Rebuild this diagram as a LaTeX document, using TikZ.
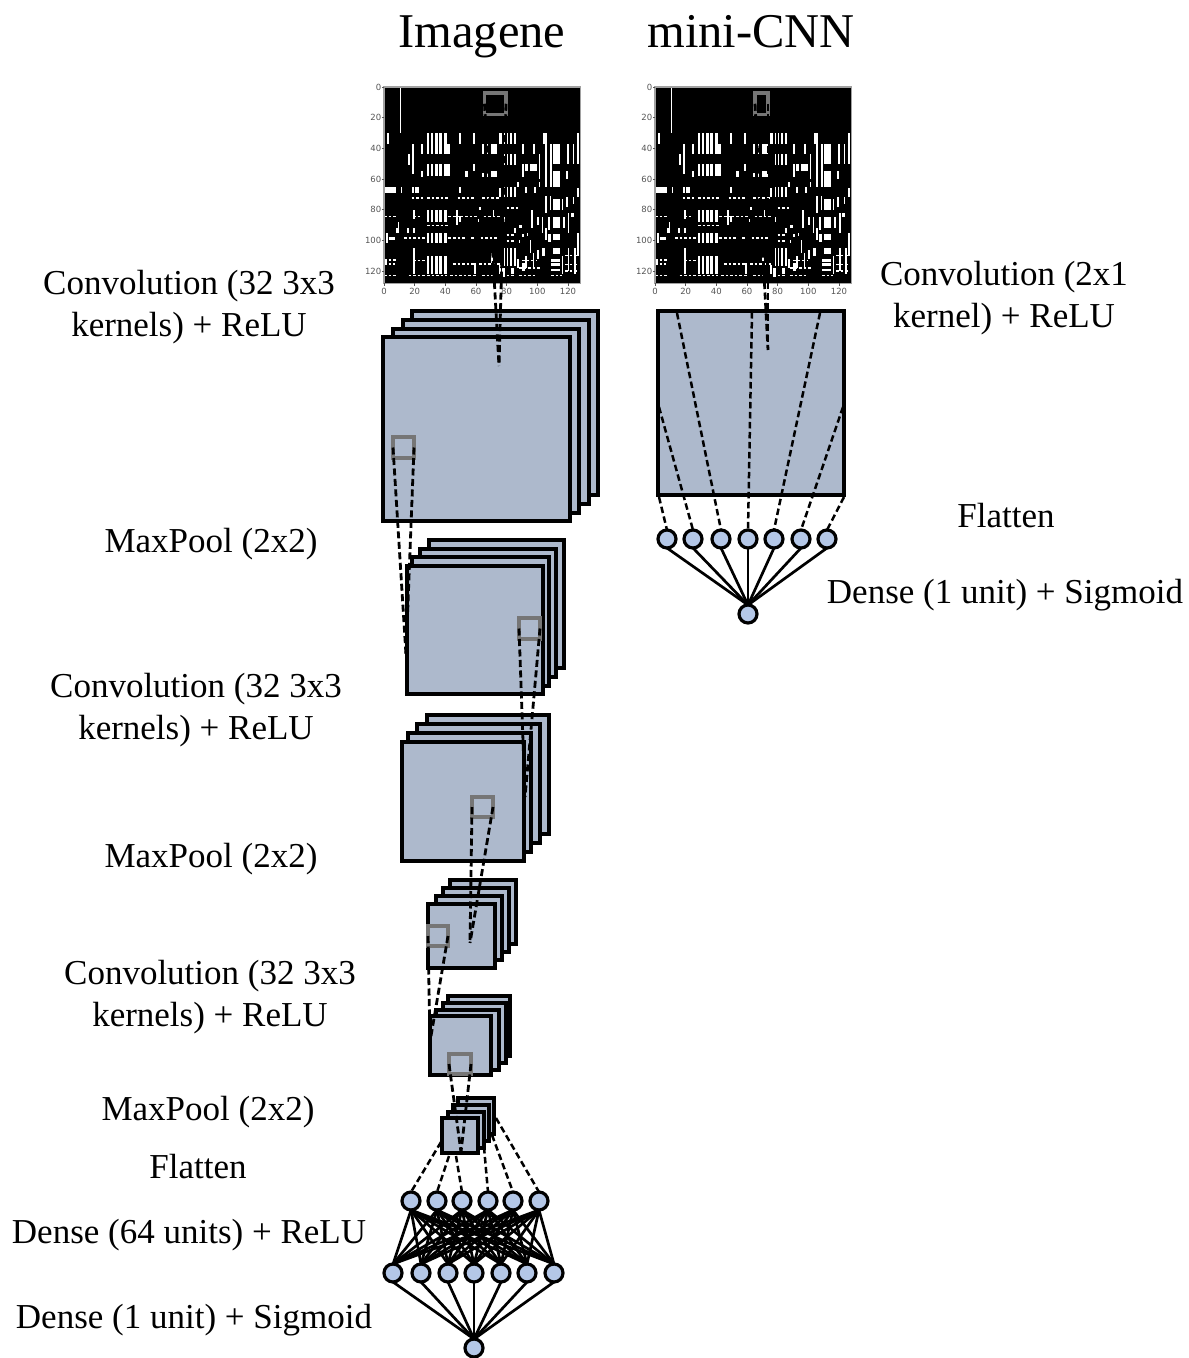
\documentclass[tikz,border=0pt]{standalone}
\usepackage{fontspec}
\setmainfont{Liberation Serif}
\newfontfamily\tickfont{DejaVu Sans}
\definecolor{boxfill}{HTML}{ADB9CC}
\definecolor{cellfill}{HTML}{B4C7E7}
\definecolor{sqgrey}{HTML}{767676}
\definecolor{tickgrey}{HTML}{555555}
\newcommand{\stk}[5]{\node[layerbox,minimum width={(#4-#2)*1pt},minimum height={(#5-#3)*1pt}] (#1) at (#2,#3) {};}
\newcommand{\grs}[5]{\node[sqbox,minimum width={(#4-#2)*1pt},minimum height={(#5-#3)*1pt}] (#1) at (#2,#3) {};}
% white rectangles of the input matrix, in matrix units
\newcommand{\rects}{2/30/3.5/37, 49/30/50.5/37, 58/30/59.5/37, 75/30/77/37, 104/30/105/37, 126/30/127.5/37,
 10.2/0/11.3/30, 18.5/37/19.7/57, 24/37/25.2/44, 15.5/44/16.7/51, 24/55/25.2/59,
 64/37/65/44, 67/37/68/44, 70/37/74/44, 64/56/65/59, 67/56/68/59, 70/55/74/59,
 90/37/91/44, 97.5/37/98.7/44, 101/44/102/60, 105/30/106.2/65, 90/50/91/59, 92/50/94/55, 95/50/100/55, 58/50/59.5/55, 53/55/54.5/59,
 108.5/37/109.5/65, 110/37/114.5/50, 110/55/114.5/65, 119.5/37/120.7/50, 123/37/124.2/50, 119/55/120/60, 126/37/127/50,
 0.5/65/7.5/69, 11/65/12/69, 18.5/65/19.5/69, 20/65/23/69, 49/65/50/69, 75/66/76/72, 87/62/88/65, 92/65/93/69, 98/65/99/69, 101/62/102/65,
 105/71/106/82, 108/71/109/80, 110/73/114.5/80, 116/73/117/80, 119/72/120/78, 123/72/124/76, 126/66/127/72,
 110/85/114.5/92, 107/85/108/93, 96/80/97/92, 100/85/101/90, 103/85/104/95, 120/82/121/95, 122/82/124/85, 117/85/118/92,
 110/96/114.5/100, 107/96/109/101, 105/92/106/100, 126/95/127/110,
 110/105/114.5/109, 103/105/105/110, 100/106/101/112, 97/108/98/118, 92/110/93/118, 120/105/121/120, 124/105/125/122, 116/110/117/122,
 109/112/115/114, 109/115/115/117, 109/119/115/120, 19/105/20/122, 0.5/112/2/115,
 59/115/60/122, 70/108/71/115, 75/116/76/122, 1/95/2.5/102, 3.5/98/7/100, 8/92/10/95, 9/88/10/92, 15/92/16/95, 19/92/20/95,
 19/80/20/86, 47/80/48/90, 49/84/50/88, 61/86/62/88, 62/78/63/80, 71/80/72/84, 78/85/79/88, 88/90/90/92,
 85/92/86/95, 90/96/91/98, 93/95/94/97, 95/100/96/108, 88/100/89/102, 87/112/88/118, 90/115/92/120, 83/118/85/122, 77/118/79/124}
\newcommand{\heat}[2]{%
 \begin{scope}[shift={(#1,#2)},x=1.533pt,y=-1.533pt]
  \fill[black] (0,0) rectangle (128,128);
  \foreach \a/\b/\c/\d in \rects {\fill[white] (\a,\b) rectangle (\c,\d);}
  \foreach \xa/\xb in {28.3/29.3,30.4/32.2,33.3/35,36/37.8,39/41.3}{
    \fill[white] (\xa,30) rectangle (\xb,44);
    \fill[white] (\xa,50) rectangle (\xb,58);
    \fill[white] (\xa,80) rectangle (\xb,88);
    \fill[white] (\xa,95) rectangle (\xb,102);
    \fill[white] (\xa,110) rectangle (\xb,122);}
  \foreach \xa/\xb in {78/79,80/81,82/83.5,84.5/86}{
    \fill[white] (\xa,30) rectangle (\xb,37);
    \fill[white] (\xa,44) rectangle (\xb,51);
    \fill[white] (\xa,65) rectangle (\xb,72);
    \fill[white] (\xa,105) rectangle (\xb,117);}
  \fill[white] (41.3,37) rectangle (43,44); \fill[white] (41.3,50) rectangle (43,58);
  \foreach \yy/\xa/\xb/\lw in {72.5/18/26/1.3, 72.5/28/43/1.3, 72.5/48/60/1.3, 72.5/64/75/1.3, 79/80/88/1.3, 84.5/0/8/1.8, 84.5/19/25/1.8, 84.5/42/49/1.8, 84.5/50/62/1.3, 84.5/65/76/1.8, 90.5/28/43/1.3, 98.5/13/27/1.3, 98.5/42/53/1.8, 98.5/57/60/1.3, 98.5/63/75/1.3, 96.5/80/86/1.3, 100.5/80/86/1.3, 113/0/8/1.8, 115.5/0/7/1.8, 113/19/27/1.3, 115.5/45/60/1.3, 115.5/62/76/1.3, 113/90/100/1.3, 118/88/102/1.3, 123/0/8/1.3, 123/16/41/1.3, 123/43/60/1.3, 123/64/73/1.8, 123/80/86/1.3, 123/88/100/1.3, 123/109/116/1.3, 120/118/127/1.3, 116/118/127/1.3, 110/118/126/1.3}{
    \draw[white,line width=\lw pt,dash pattern=on 2.6pt off 2pt] (\xa,\yy) -- (\xb,\yy);}
  \draw[tickgrey!55,line width=1.2pt] (0,0) rectangle (128,128);
  \foreach \v in {0,20,...,120}{
    \draw[tickgrey,line width=.6pt] (\v,128) -- ++(0,1.5);
    \draw[tickgrey,line width=.6pt] (0,\v) -- ++(-1.5,0);
    \node[ticklbl,anchor=north] at (\v,130.5) {\v};
    \node[ticklbl,anchor=east] at (-1,\v) {\v};}
 \end{scope}}
\tikzset{
  x=1pt,y=-1pt,
  layerbox/.style={draw=black,fill=boxfill,line width=3.8pt,anchor=north west,inner sep=0pt,outer sep=0pt},
  sqbox/.style={draw=sqgrey,line width=3.4pt,anchor=north west,inner sep=0pt,outer sep=0pt},
  dashlink/.style={draw=black,line width=2.8pt,dash pattern=on 7pt off 3.5pt},
  flatlink/.style={draw=black,line width=2.5pt,dash pattern=on 6.5pt off 3.5pt},
  cell/.style={circle,draw=black,fill=cellfill,line width=3.2pt,minimum size=18pt,inner sep=0pt,outer sep=0pt},
  wire/.style={draw=black,line width=2.7pt},
  lbl/.style={font=\fontsize{35}{35}\selectfont,anchor=base,inner sep=0pt,text=black},
  ttl/.style={font=\fontsize{48.5}{48.5}\selectfont,anchor=base,inner sep=0pt},
  ticklbl/.style={font=\tickfont\fontsize{8.5}{8.5}\selectfont,text=tickgrey,inner sep=1pt}
}
\begin{document}
\begin{tikzpicture}
\useasboundingbox (0,0) rectangle (1189,1358);
% titles
\node[ttl] (t1) at (482,47) {Imagene};
\node[ttl] (t2) at (751,47) {mini-CNN};
% inputs
\heat{384}{87}
\heat{655}{87}
\grs{isq1}{484.5}{93}{506}{114.5}
\grs{isq2}{755}{93}{768}{114.5}
% first stack
\stk{a4}{412}{311}{598}{495}
\stk{a3}{403}{320}{589}{504}
\stk{a2}{393}{329}{579}{513}
\stk{a1}{383}{337}{570}{521}
\grs{asq}{393}{437}{414}{458}
\stk{b4}{429}{540}{564}{668}
\stk{b3}{420}{549}{556}{677}
\stk{b2}{412}{557}{549}{686}
\stk{b1}{407}{566}{543}{694}
\grs{bsq}{519}{618}{540}{639}
\stk{c4}{427}{715}{549}{834}
\stk{c3}{417}{724}{540}{843}
\stk{c2}{408}{733}{531}{852}
\stk{c1}{402}{742}{524}{861}
\grs{csq}{472}{797}{493}{817}
\stk{d4}{450}{880}{516}{944}
\stk{d3}{443}{888}{509}{952}
\stk{d2}{436}{896}{502}{960}
\stk{d1}{428}{904}{495}{968}
\grs{dsq}{428}{926}{448}{946}
\stk{e4}{448}{996}{510}{1056}
\stk{e3}{443}{1003}{506}{1063}
\stk{e2}{436}{1010}{499}{1070}
\stk{e1}{430}{1016}{491}{1075}
\grs{esq}{449}{1054}{471}{1074}
\stk{f4}{458}{1098}{494}{1134}
\stk{f3}{453}{1105}{489}{1141}
\stk{f2}{448}{1112}{484}{1148}
\stk{f1}{442}{1118}{478}{1153}
% mini-CNN box
\stk{m1}{658}{311}{844}{495}
% apex points of the receptive fields
\coordinate (ap1) at (499,366);
\coordinate (ap2) at (406,655);
\coordinate (ap3) at (525,797);
\coordinate (ap4) at (470,943);
\coordinate (ap5) at (430,1042);
\coordinate (ap6) at (461,1152);
\coordinate (mp) at (768,350);
% cells
\foreach \n/\px in {1/411,2/437,3/462,4/488,5/513,6/539}{\node[cell] (h\n) at (\px,1201) {};}
\foreach \n/\px in {1/393,2/421,3/448,4/474,5/501,6/527,7/554}{\node[cell] (k\n) at (\px,1273) {};}
\node[cell] (z) at (474,1348) {};
\foreach \n/\px in {1/667,2/693,3/721,4/748,5/774,6/801,7/827}{\node[cell] (q\n) at (\px,539) {};}
\node[cell] (y) at (748,614) {};
% dashed receptive field links
\foreach \s/\t in {isq1/ap1,asq/ap2,bsq/ap3,csq/ap4,dsq/ap5,esq/ap6}{
  \draw[dashlink] (\s.west) -- (\t);
  \draw[dashlink] (\s.east) -- (\t);}
\draw[dashlink] (isq2.west) -- (mp);
\draw[dashlink] (isq2.east) -- (mp);
% flatten links, Imagene
\coordinate (p1) at (441,1142);
\coordinate (p2) at (449,1156);
\coordinate (p3) at (456,1156);
\coordinate (p4) at (484,1147);
\coordinate (p5) at (492,1135);
\coordinate (p6) at (496,1118);
\foreach \n in {1,...,6}{\draw[flatlink] (p\n) -- (h\n.north);}
% flatten links, mini-CNN
\coordinate (r1) at (659,497);
\coordinate (r2) at (659,407);
\coordinate (r3) at (677,313);
\coordinate (r4) at (752,312);
\coordinate (r5) at (820,313);
\coordinate (r6) at (843,407);
\coordinate (r7) at (844,497);
\foreach \n in {1,...,7}{\draw[flatlink] (r\n) -- (q\n.north);}
% dense wires
\foreach \i in {1,...,6}{\foreach \j in {1,...,7}{\draw[wire] (h\i.south) -- (k\j.north);}}
\foreach \j in {1,...,7}{\draw[wire] (k\j.south) -- (z.north);}
\foreach \j in {1,...,7}{\draw[wire] (q\j.south) -- (y.north);}
% labels
\node[lbl] (l1) at (189,294) {Convolution (32 3x3};
\node[lbl] (l2) at (189,336) {kernels) + ReLU};
\node[lbl] (l3) at (211,552) {MaxPool (2x2)};
\node[lbl] (l4) at (196,697) {Convolution (32 3x3};
\node[lbl] (l5) at (196,739) {kernels) + ReLU};
\node[lbl] (l6) at (211,867) {MaxPool (2x2)};
\node[lbl] (l7) at (210,984) {Convolution (32 3x3};
\node[lbl] (l8) at (210,1026) {kernels) + ReLU};
\node[lbl] (l9) at (208,1120) {MaxPool (2x2)};
\node[lbl] (l10) at (198,1178) {Flatten};
\node[lbl] (l11) at (189,1243) {Dense (64 units) + ReLU};
\node[lbl] (l12) at (194,1328) {Dense (1 unit) + Sigmoid};
\node[lbl] (l13) at (1004,285) {Convolution (2x1};
\node[lbl] (l14) at (1004,327) {kernel) + ReLU};
\node[lbl] (l15) at (1006,527) {Flatten};
\node[lbl] (l16) at (1005,603) {Dense (1 unit) + Sigmoid};
\end{tikzpicture}
\end{document}
